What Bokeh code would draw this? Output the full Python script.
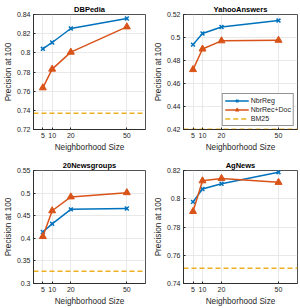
from bokeh.plotting import figure
from bokeh.layouts import gridplot
from bokeh.models import FixedTicker, Legend
from bokeh.embed import file_html
from bokeh.resources import INLINE

# ---- data ----
sizes = [5, 10, 20, 50]
x_ticks = [5, 10, 20, 50]
x_lo, x_hi = 0, 60

titles = ["DBPedia", "YahooAnswers", "20Newsgroups", "AgNews"]
nbrreg = [
    [0.8042, 0.8108, 0.8254, 0.8358],
    [0.4938, 0.5035, 0.5091, 0.5147],
    [0.4140, 0.4320, 0.4640, 0.4660],
    [0.7978, 0.8069, 0.8106, 0.8188],
]
nbrrecdoc = [
    [0.7635, 0.7830, 0.8007, 0.8271],
    [0.4721, 0.4900, 0.4971, 0.4976],
    [0.4040, 0.4610, 0.4916, 0.5010],
    [0.7910, 0.8127, 0.8144, 0.8116],
]
bm25 = [0.7370, 0.4203, 0.3270, 0.7508]
y_ranges = [(0.72, 0.84), (0.42, 0.52), (0.30, 0.55), (0.74, 0.82)]
y_ticks = [
    [0.72, 0.74, 0.76, 0.78, 0.80, 0.82, 0.84],
    [0.42, 0.44, 0.46, 0.48, 0.50, 0.52],
    [0.30, 0.35, 0.40, 0.45, 0.50, 0.55],
    [0.74, 0.76, 0.78, 0.80, 0.82],
]
series_names = ["NbrReg", "NbrRec+Doc", "BM25"]

BLUE = "#0072BD"
ORANGE = "#D95319"
YELLOW = "#EDB120"
TXT = "#262626"
FONT = "Liberation Sans"


def fmt(v):
    return ("%g" % v)


def make(i):
    left = 28 if i % 2 == 0 else 28
    right = 5 if i % 2 == 0 else 3
    top = 14 if i < 2 else 16
    p = figure(width=150, height=154, output_backend="svg", toolbar_location=None,
               x_range=(x_lo, x_hi), y_range=y_ranges[i],
               min_border_left=left, min_border_right=right,
               min_border_top=top, min_border_bottom=25)
    p.title.text = titles[i]
    p.title.align = "center"
    p.title.text_font = FONT
    p.title.text_font_size = "7.5px"
    p.title.text_font_style = "bold"
    p.title.text_color = "#000000"
    p.title.standoff = 1
    p.title.offset = 0

    p.outline_line_color = TXT
    p.outline_line_width = 0.8
    p.outline_line_alpha = 1.0

    p.xaxis.ticker = FixedTicker(ticks=x_ticks)
    p.yaxis.ticker = FixedTicker(ticks=y_ticks[i])
    p.yaxis.major_label_overrides = {t: fmt(t) for t in y_ticks[i]}
    p.xaxis.axis_label = "Neighborhood Size"
    p.yaxis.axis_label = "Precision at 100"
    for ax in (p.xaxis[0], p.yaxis[0]):
        ax.axis_label_text_font = FONT
        ax.axis_label_text_font_size = "8.2px"
        ax.axis_label_text_font_style = "normal"
        ax.axis_label_text_color = TXT
        ax.major_label_text_font = FONT
        ax.major_label_text_font_size = "7px"
        ax.major_label_text_color = TXT
        ax.axis_line_color = TXT
        ax.axis_line_width = 0.8
        ax.major_tick_line_color = TXT
        ax.major_tick_in = 2
        ax.major_tick_out = 0
        ax.minor_tick_line_color = None
        ax.major_label_standoff = 3
        ax.axis_label_standoff = 2
    p.yaxis.axis_label_standoff = 1
    p.grid.grid_line_color = "#E3E3E3"
    p.grid.grid_line_width = 0.8

    r1 = p.line(sizes, nbrreg[i], line_color=BLUE, line_width=1.5)
    r1m = p.scatter(sizes, nbrreg[i], marker="x", size=5.5, line_color=BLUE, line_width=1.5)
    r2 = p.line(sizes, nbrrecdoc[i], line_color=ORANGE, line_width=1.5)
    r2m = p.scatter(sizes, nbrrecdoc[i], marker="triangle", size=7,
                    fill_color=ORANGE, line_color=ORANGE)
    r3 = p.line([x_lo, x_hi], [bm25[i], bm25[i]], line_color=YELLOW,
                line_width=1.5, line_dash="5 3")

    if i == 1:
        leg = Legend(items=[(series_names[0], [r1, r1m]),
                            (series_names[1], [r2, r2m]),
                            (series_names[2], [r3])],
                     location="bottom_right")
        leg.label_text_font = FONT
        leg.label_text_font_size = "7px"
        leg.label_text_color = TXT
        leg.glyph_width = 24
        leg.glyph_height = 9
        leg.label_height = 9
        leg.label_standoff = 2
        leg.spacing = 0
        leg.padding = 2
        leg.margin = 3
        leg.border_line_color = TXT
        leg.border_line_width = 0.8
        leg.background_fill_alpha = 1.0
        p.add_layout(leg, "center")
    return p


figs = [make(i) for i in range(4)]
grid = gridplot([[figs[0], figs[1]], [figs[2], figs[3]]], toolbar_location=None)
open("out.html", "w").write(file_html(grid, INLINE))
